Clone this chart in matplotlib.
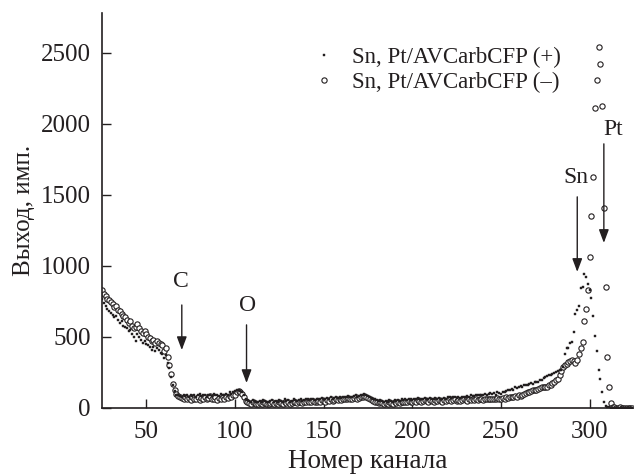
import matplotlib
matplotlib.use("Agg")
import matplotlib.pyplot as plt
import numpy as np

plt.rcParams['font.family'] = ['Liberation Serif', 'DejaVu Serif']
plt.rcParams['mathtext.fontset'] = 'stix'

# ---- data ----
channels_minus_start = 25
counts_minus = [
    830, 805, 790, 770, 760, 745, 730, 710, 720, 690,   # 25-34
    680, 660, 650, 640, 620, 600, 610, 580, 560, 570,   # 35-44
    590, 560, 540, 530, 545, 520, 500, 490, 470, 480,   # 45-54
    460, 470, 455, 450, 440, 400, 420, 360, 300, 240,   # 55-64
    170, 130, 100, 85, 75, 70, 65, 80, 60, 70,          # 65-74
    55, 75, 60, 65, 80, 55, 70, 65, 75, 60,             # 75-84
    70, 85, 60, 65, 75, 55, 70, 60, 80, 65,             # 85-94
    75, 70, 85, 75, 90, 95, 110, 120, 115, 100,         # 95-104
    75, 50, 40, 35, 30, 40, 35, 30, 25, 35,             # 105-114
    30, 40, 35, 25, 30, 35, 40, 30, 35, 30,             # 115-124
    40, 35, 30, 45, 35, 40, 30, 35, 45, 40,             # 125-134
    35, 40, 45, 35, 40, 45, 50, 40, 45, 50,             # 135-144
    40, 45, 50, 45, 55, 50, 45, 55, 50, 60,             # 145-154
    50, 55, 60, 55, 60, 55, 65, 60, 65, 70,             # 155-164
    60, 65, 70, 75, 65, 70, 80, 75, 85, 80,             # 165-174
    70, 65, 55, 50, 45, 40, 35, 40, 35, 30,             # 175-184
    35, 30, 40, 35, 30, 40, 35, 40, 35, 45,             # 185-194
    40, 45, 40, 50, 45, 40, 50, 45, 55, 50,             # 195-204
    45, 50, 55, 50, 45, 55, 50, 45, 55, 50,             # 205-214
    55, 50, 45, 55, 50, 55, 60, 50, 55, 60,             # 215-224
    50, 55, 50, 55, 60, 55, 50, 60, 55, 60,             # 225-234
    55, 60, 55, 60, 65, 55, 60, 65, 60, 65,             # 235-244
    60, 65, 60, 70, 65, 60, 70, 65, 75, 70,             # 245-254
    75, 80, 75, 85, 80, 90, 85, 95, 100, 105,           # 255-264
    110, 115, 120, 125, 130, 125, 135, 140, 145, 150,   # 265-274
    145, 150, 160, 165, 175, 185, 195, 205, 230, 260,   # 275-284
    290, 300, 310, 325, 330, 335, 330, 320, 340, 380,   # 285-294
    423, 461, 613, 697, 831, 1065, 1354, 1629, 2110, 2310,  # 295-304
    2540, 2423, 2122, 1408, 852, 359, 150, 35, 10, 5,   # 305-314
    3, 2, 5, 2, 3, 1, 2, 1, 2, 1,                       # 315-324
]

channels_plus_start = 25
counts_plus = [
    770, 740, 720, 700, 680, 670, 655, 640, 650, 620,   # 25-34
    600, 610, 580, 570, 560, 540, 550, 520, 500, 470,   # 35-44
    520, 500, 480, 460, 470, 450, 440, 430, 410, 430,   # 45-54
    400, 420, 410, 390, 380, 350, 370, 320, 280, 220,   # 55-64
    160, 120, 95, 90, 85, 80, 90, 85, 95, 80,           # 65-74
    90, 85, 95, 80, 90, 100, 85, 95, 90, 80,            # 75-84
    95, 90, 85, 100, 90, 95, 85, 100, 95, 90,           # 85-94
    100, 95, 110, 100, 115, 120, 130, 125, 120, 110,    # 95-104
    90, 65, 55, 50, 45, 55, 50, 45, 40, 50,             # 105-114
    45, 55, 50, 40, 45, 50, 55, 45, 50, 45,             # 115-124
    55, 50, 45, 60, 50, 55, 45, 50, 60, 55,             # 125-134
    50, 55, 60, 50, 55, 60, 65, 55, 60, 65,             # 135-144
    55, 60, 65, 60, 70, 65, 60, 70, 65, 75,             # 145-154
    65, 70, 75, 70, 75, 70, 80, 75, 80, 85,             # 155-164
    75, 80, 85, 90, 80, 85, 95, 90, 100, 95,            # 165-174
    85, 80, 70, 65, 60, 55, 50, 55, 50, 45,             # 175-184
    50, 45, 55, 50, 45, 55, 50, 55, 50, 60,             # 185-194
    55, 60, 55, 65, 60, 55, 65, 60, 70, 65,             # 195-204
    60, 65, 70, 65, 60, 70, 65, 60, 70, 65,             # 205-214
    70, 65, 60, 70, 65, 75, 80, 70, 75, 80,             # 215-224
    70, 75, 70, 80, 75, 80, 85, 80, 90, 85,             # 225-234
    85, 95, 90, 95, 90, 95, 100, 95, 100, 105,          # 235-244
    100, 105, 95, 110, 105, 100, 110, 115, 120, 125,    # 245-254
    130, 135, 125, 145, 140, 150, 155, 150, 160, 165,   # 255-264
    160, 170, 175, 170, 180, 185, 180, 195, 200, 210,   # 265-274
    215, 225, 235, 230, 240, 245, 250, 260, 265, 270,   # 275-284
    290, 380, 420, 420, 460, 467, 537, 660, 690, 718,   # 285-294
    847, 850, 944, 925, 871, 831, 777, 646, 509, 401,   # 295-304
    268, 202, 110, 44, 15, 8, 5, 3, 2, 1,               # 305-314
    2, 1, 3, 1, 2, 1, 2, 1, 1, 2,                       # 315-324
]

label_plus = "Sn, Pt/AVCarbCFP (+)"
label_minus = "Sn, Pt/AVCarbCFP (\u2013)"
x_label = "Номер канала"
y_label = "Выход, имп."
x_ticks = [50, 100, 150, 200, 250, 300]
y_ticks = [0, 500, 1000, 1500, 2000, 2500]

# element annotations: (label, arrow_x, text_y, arrow_start_y, arrow_tip_y, text_x)
annotations = [
    ("C", 70, 887, 725, 408, 69.5),
    ("O", 106.5, 718, 585, 176, 107),
    ("Sn", 293, 1620, 1486, 958, 292),
    ("Pt", 308, 1958, 1859, 1162, 313),
]

ch_minus = np.arange(channels_minus_start, channels_minus_start + len(counts_minus))
ch_plus = np.arange(channels_plus_start, channels_plus_start + len(counts_plus))

ink = '#231f20'

fig = plt.figure(figsize=(6.34, 4.74), dpi=100)
ax = fig.add_axes([102/634, 1 - 408/474, 532/634, 395/474])

ax.plot(ch_minus, counts_minus, linestyle='none', marker='o', markersize=3.8,
        markerfacecolor='white', markeredgecolor=ink, markeredgewidth=0.8,
        label=label_minus, zorder=2)
ax.plot(ch_plus, counts_plus, linestyle='none', marker='s', markersize=2.0,
        markerfacecolor=ink, markeredgecolor=ink, markeredgewidth=0.3,
        label=label_plus, zorder=3)

ax.set_xlim(25, 325)
ax.set_ylim(0, 2780)
ax.set_xticks(x_ticks)
ax.set_yticks(y_ticks)

for s in ['top', 'right']:
    ax.spines[s].set_visible(False)
for s in ['left', 'bottom']:
    ax.spines[s].set_linewidth(1.2)
    ax.spines[s].set_color(ink)

ax.tick_params(axis='both', direction='in', length=6.5, width=1.0, colors=ink,
               labelsize=18, labelcolor=ink)
ax.tick_params(axis='x', pad=9)
ax.tick_params(axis='y', pad=8)

ax.set_xlabel(x_label, fontsize=19.5, color=ink, labelpad=4.5)
ax.set_ylabel(y_label, fontsize=18, color=ink, labelpad=4)

handles, labels = ax.get_legend_handles_labels()
leg = ax.legend(handles[::-1], labels[::-1], loc='upper left',
                bbox_to_anchor=(0.395, 0.915), frameon=False, fontsize=16.5,
                handlelength=1.0, handletextpad=0.75, labelspacing=0.2,
                borderpad=0, borderaxespad=0, markerscale=1.0)
for t in leg.get_texts():
    t.set_color(ink)

for lab, xa, ty, y0, y1, tx in annotations:
    ax.annotate('', xy=(xa, y1), xytext=(xa, y0),
                arrowprops=dict(arrowstyle='-|>,head_length=0.8,head_width=0.3',
                                color=ink, lw=1.0, mutation_scale=10,
                                shrinkA=0, shrinkB=0))
    ax.text(tx, ty, lab, ha='center', va='center', fontsize=17, color=ink)

fig.savefig('out.png', dpi=100)
